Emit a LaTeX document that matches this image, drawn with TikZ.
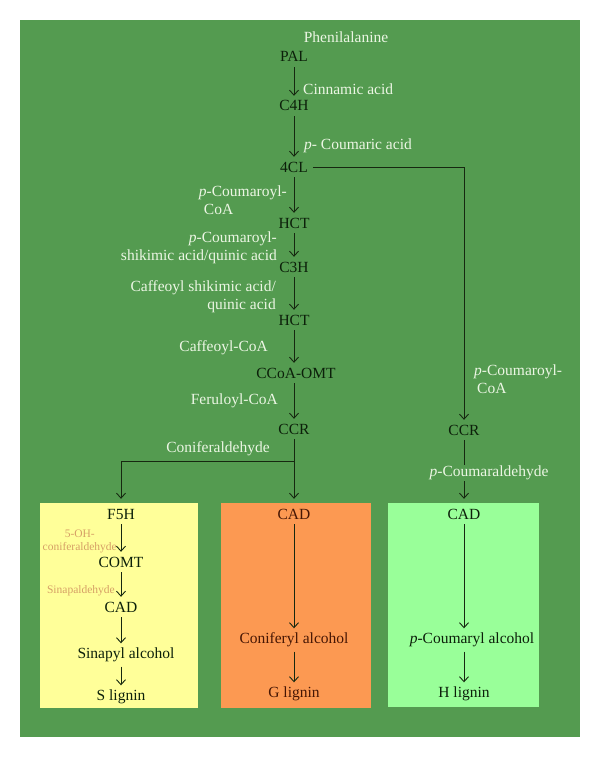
\documentclass[tikz,border=0pt]{standalone}
\usepackage{fontspec}
\setmainfont{Liberation Serif}
\usetikzlibrary{arrows.meta}

\definecolor{bggreen}{RGB}{84,155,80}
\definecolor{sbox}{RGB}{255,255,153}
\definecolor{gbox}{RGB}{252,153,82}
\definecolor{hbox}{RGB}{153,255,153}
\definecolor{labtxt}{RGB}{236,246,228}
\definecolor{enztxt}{RGB}{12,32,10}
\definecolor{gtxt}{RGB}{70,22,4}
\definecolor{smalltxt}{RGB}{214,160,102}
\definecolor{arrcol}{RGB}{22,40,16}

\tikzset{
  enz/.style={text=enztxt, inner sep=5pt, text height=10pt, text depth=0pt, font=\fontsize{15.5}{18}\selectfont},
  lab/.style={text=labtxt, inner sep=0pt, font=\fontsize{15.5}{18}\selectfont},
  small/.style={text=smalltxt, inner sep=0pt, font=\fontsize{11.5}{13}\selectfont},
  arr/.style={draw=arrcol, line width=0.9pt, -{Straight Barb[length=5pt,width=9pt]}},
  ln/.style={draw=arrcol, line width=0.9pt},
}

\begin{document}
\begin{tikzpicture}[x=1pt,y=-1pt]
\useasboundingbox (0,0) rectangle (600,757);
\fill[white] (0,0) rectangle (600,757);
\fill[bggreen] (20,20) rectangle (580,737);
\fill[sbox] (40,503) rectangle (198,708);
\fill[gbox] (221,503) rectangle (371,708);
\fill[hbox] (388,503) rectangle (539,707);

% main column
\node[lab] (phe) at (346,37) {Phenilalanine};
\node[enz] (pal) at (294,57) {PAL};
\node[enz] (c4h) at (294,106) {C4H};
\node[enz] (4cl) at (294,167) {4CL};
\node[enz] (hct1) at (294,223) {HCT};
\node[enz] (c3h) at (294,267) {C3H};
\node[enz] (hct2) at (294,320) {HCT};
\node[enz] (ccoaomt) at (296,373) {CCoA-OMT};
\node[enz] (ccrg) at (294,429) {CCR};

\node[lab, anchor=west] (cinn) at (303,89) {Cinnamic acid};
\node[lab, anchor=west] (coumac) at (304,146) {\textit{p}- Coumaric acid};
\node[lab, anchor=east, align=left] (pcoa1) at (287,200) {\textit{p}-Coumaroyl-\\\hspace*{5pt}CoA};
\node[lab, anchor=east, align=right] (pshik) at (277,248) {\textit{p}-Coumaroyl-\\shikimic acid/quinic acid};
\node[lab, anchor=east, align=right] (cshik) at (276,297) {Caffeoyl shikimic acid/\\quinic acid};
\node[lab, anchor=east] (caffcoa) at (268,348) {Caffeoyl-CoA};
\node[lab, anchor=east] (fercoa) at (278,401) {Feruloyl-CoA};
\node[lab] (conald) at (218,449) {Coniferaldehyde};

% right column
\node[enz] (ccrh) at (464,430) {CCR};
\node[lab, anchor=west, align=left] (pcoa2) at (474,379) {\textit{p}-Coumaroyl-\\\hspace*{3pt}CoA};

% S lignin box
\node[enz] (f5h) at (121,514) {F5H};
\node[enz] (comt) at (121,562) {COMT};
\node[enz] (cads) at (121,607) {CAD};
\node[enz, text depth=3pt] (sinalc) at (126,655) {Sinapyl alcohol};
\node[enz, text depth=3pt] (slig) at (121,697) {S lignin};
\node[small, anchor=east, align=center] (ohcon) at (117,541) {5-OH-\\coniferaldehyde};
\node[small, anchor=east] (sinald) at (115,591) {Sinapaldehyde};

% G lignin box
\node[enz, text=gtxt] (cadg) at (294,514) {CAD};
\node[enz, text=gtxt, text depth=3pt] (conalc) at (294,640) {Coniferyl alcohol};
\node[enz, text=gtxt, text depth=3pt] (glig) at (294,694) {G lignin};

% H lignin box
\node[enz] (cadh) at (464,514) {CAD};
\node[enz, text depth=3pt] (palc) at (472,640) {\textit{p}-Coumaryl alcohol};
\node[enz, text depth=3pt] (hlig) at (464,694) {H lignin};

\coordinate (split) at (294,461);

\path[arr] (pal) -- (c4h);
\path[arr] (c4h) -- (4cl);
\path[arr] (4cl) -- (hct1);
\path[arr] (hct1) -- (c3h);
\path[arr] (c3h) -- (hct2);
\path[arr] (hct2) -- (ccoaomt.north -| hct2);
\path[arr] (ccoaomt.south -| ccrg) -- (ccrg);
\path[arr] (4cl.east) -| (ccrh.north);
\path[ln] (ccrg) -- (split);
\path[arr, shorten >=5pt] (split) -| (f5h.north);
\path[arr, shorten >=5pt] (split) -- (cadg.north);
\path[arr, shorten >=5pt] (ccrh) -- (cadh.north);
\node[lab, fill=bggreen, inner sep=1pt] (pcoumald) at (489,473) {\textit{p}-Coumaraldehyde};

\path[arr] (f5h) -- (comt);
\path[arr] (comt) -- (cads);
\path[arr] (cads) -- (sinalc.north -| cads);
\path[arr] (sinalc.south -| slig) -- (slig);
\path[arr] (cadg) -- (conalc);
\path[arr] (conalc) -- (glig);
\path[arr] (cadh) -- (palc.north -| cadh);
\path[arr] (palc.south -| hlig) -- (hlig);
\end{tikzpicture}
\end{document}
